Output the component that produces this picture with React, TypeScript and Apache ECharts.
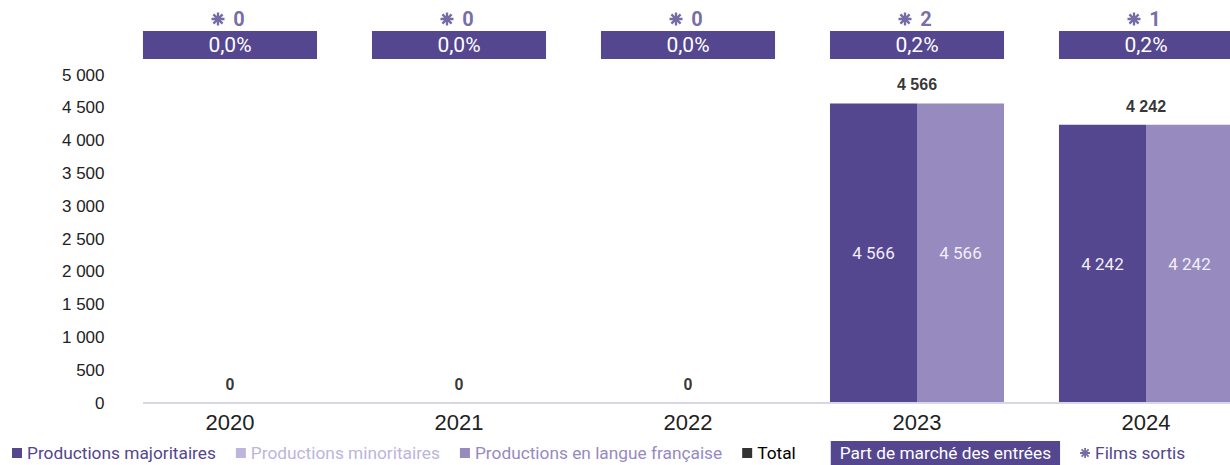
import React, { useEffect, useRef } from "react";
import * as echarts from "echarts";

const YEARS = ["2020", "2021", "2022", "2023", "2024"];
const MAJORITAIRES = [0, 0, 0, 4566, 4242];
const MINORITAIRES = [0, 0, 0, 0, 0];
const LANGUE_FR = [0, 0, 0, 4566, 4242];
const TOTAL = [0, 0, 0, 4566, 4242];
const PART_MARCHE = ["0,0%", "0,0%", "0,0%", "0,2%", "0,2%"];
const FILMS_SORTIS = [0, 0, 0, 2, 1];
const Y_MIN = 0;
const Y_MAX = 5000;
const Y_INTERVAL = 500;

const C_MAJ = "#54468F";
const C_MIN = "#BDB5DB";
const C_FR = "#978ABF";

const W = 1230;
const H = 465;
const GRID_LEFT = 115.5;
const BAND = 229;
const INNER_W = Math.ceil(GRID_LEFT + BAND * YEARS.length);
const GRID_TOP = 75;
const GRID_BOTTOM = 62;
const HEAD_TOP = 31;
const HEAD_H = 28;
const CAT_GAP = 0.24;

const fmt = (v: number) => String(v).replace(/\B(?=(\d{3})+(?!\d))/g, " ");

function starPath(): string {
  const L = 10;
  const Wd = 1.8;
  let d = "";
  for (const a of [0, 45, 90, 135]) {
    const r = (a * Math.PI) / 180;
    const c = Math.cos(r);
    const s = Math.sin(r);
    const pts = [
      [L, Wd],
      [L, -Wd],
      [-L, -Wd],
      [-L, Wd],
    ].map(([x, y]) => [x * c - y * s, x * s + y * c]);
    d += "M" + pts.map((p) => p[0].toFixed(3) + " " + p[1].toFixed(3)).join("L") + "Z";
  }
  return "path://" + d;
}
const STAR = starPath();

export default function App() {
  const ref = useRef<HTMLDivElement>(null);
  useEffect(() => {
    if (!ref.current) return;
    const chart = echarts.init(ref.current, undefined, { renderer: "svg" });
    const font = "Roboto";
    const axisY = H - GRID_BOTTOM;
    const plotW = BAND * YEARS.length;
    chart.setOption({
      animation: false,
      backgroundColor: "#fff",
      grid: [
        { left: GRID_LEFT, width: plotW, top: GRID_TOP, bottom: GRID_BOTTOM },
        { left: GRID_LEFT, width: plotW, top: HEAD_TOP, height: HEAD_H },
      ],
      xAxis: [
        {
          type: "category",
          gridIndex: 0,
          data: YEARS,
          axisLine: { show: false },
          axisTick: { show: false },
          axisLabel: {
            color: "#222",
            fontSize: 22,
            fontFamily: "Liberation Sans",
            margin: 8,
          },
        },
        {
          type: "category",
          gridIndex: 1,
          data: YEARS,
          show: false,
        },
      ],
      yAxis: [
        {
          type: "value",
          gridIndex: 0,
          min: Y_MIN,
          max: Y_MAX,
          interval: Y_INTERVAL,
          splitLine: { show: false },
          axisLine: { show: false },
          axisTick: { show: false },
          axisLabel: {
            color: "#222",
            fontSize: 17,
            fontFamily: "Liberation Sans",
            margin: 11,
            formatter: (v: number) => fmt(v),
          },
        },
        { type: "value", gridIndex: 1, min: 0, max: 1, show: false },
      ],
      legend: {
        left: 7,
        top: 436,
        itemWidth: 10,
        itemHeight: 10,
        itemGap: 20,
        selectedMode: false,
        textStyle: { fontFamily: font, fontSize: 17.3 },
        data: [
          { name: "Productions majoritaires", icon: "rect", textStyle: { color: C_MAJ } },
          { name: "Productions minoritaires", icon: "rect", textStyle: { color: C_MIN } },
          { name: "Productions en langue française", icon: "rect", textStyle: { color: C_FR } },
          { name: "Total", icon: "rect", itemStyle: { color: "#000" }, textStyle: { color: "#000" } },
          {
            name: "Part de marché des entrées",
            icon: "none",
            textStyle: { color: "#fff", backgroundColor: C_MAJ, padding: [4, 9, 3, 9] },
          },
          { name: "Films sortis", icon: STAR, textStyle: { color: C_MAJ } },
        ],
      },
      graphic: [
        {
          type: "line",
          silent: true,
          shape: { x1: GRID_LEFT + (BAND * CAT_GAP) / 2, y1: axisY, x2: INNER_W, y2: axisY },
          style: { stroke: "#D9D5EA", lineWidth: 2 },
          z: 5,
        },
      ],
      series: [
        {
          name: "Productions majoritaires",
          type: "bar",
          stack: "prod",
          data: MAJORITAIRES,
          barGap: "0%",
          barCategoryGap: CAT_GAP * 100 + "%",
          itemStyle: { color: C_MAJ },
          label: {
            show: true,
            position: "inside",
            color: "#F1EFF8",
            fontFamily: font,
            fontSize: 17,
            formatter: (p: any) => (p.value ? fmt(p.value) : ""),
          },
        },
        {
          name: "Productions minoritaires",
          type: "bar",
          stack: "prod",
          data: MINORITAIRES,
          itemStyle: { color: C_MIN },
          label: {
            show: true,
            position: "inside",
            color: "#F1EFF8",
            fontFamily: font,
            fontSize: 17,
            formatter: (p: any) => (p.value ? fmt(p.value) : ""),
          },
        },
        {
          name: "Productions en langue française",
          type: "bar",
          data: LANGUE_FR,
          barGap: "0%",
          barCategoryGap: CAT_GAP * 100 + "%",
          itemStyle: { color: C_FR },
          label: {
            show: true,
            position: "inside",
            color: "#F1EFF8",
            fontFamily: font,
            fontSize: 17,
            formatter: (p: any) => (p.value ? fmt(p.value) : ""),
          },
        },
        {
          name: "Total",
          type: "scatter",
          data: TOTAL,
          symbol: "circle",
          symbolSize: 1,
          itemStyle: { color: "rgba(0,0,0,0)" },
          z: 10,
          label: {
            show: true,
            position: "top",
            distance: 10,
            color: "#000",
            fontFamily: "Liberation Sans",
            fontWeight: "bold",
            fontSize: 16,
            formatter: (p: any) => fmt(p.value),
          },
        },
        {
          name: "Part de marché des entrées",
          type: "bar",
          xAxisIndex: 1,
          yAxisIndex: 1,
          data: PART_MARCHE.map(() => 1),
          barCategoryGap: CAT_GAP * 100 + "%",
          itemStyle: { color: C_MAJ },
          label: {
            show: true,
            position: "inside",
            color: "#fff",
            fontFamily: font,
            fontSize: 21,
            formatter: (p: any) => PART_MARCHE[p.dataIndex],
          },
        },
        {
          name: "Films sortis",
          type: "scatter",
          xAxisIndex: 1,
          yAxisIndex: 1,
          data: FILMS_SORTIS.map(() => 1),
          symbol: STAR,
          symbolSize: 13,
          symbolOffset: [-12, -12],
          clip: false,
          itemStyle: { color: C_MAJ },
          label: {
            show: true,
            position: "inside",
            offset: [21, 0],
            color: C_MAJ,
            fontFamily: font,
            fontWeight: "bold",
            fontSize: 20,
            formatter: (p: any) => String(FILMS_SORTIS[p.dataIndex]),
          },
        },
      ],
    });
    return () => chart.dispose();
  }, []);
  return (
    <div
      style={{ position: "absolute", left: 0, top: 0, width: W, height: H, overflow: "hidden" }}
    >
      <div ref={ref} style={{ width: INNER_W, height: H }} />
    </div>
  );
}
